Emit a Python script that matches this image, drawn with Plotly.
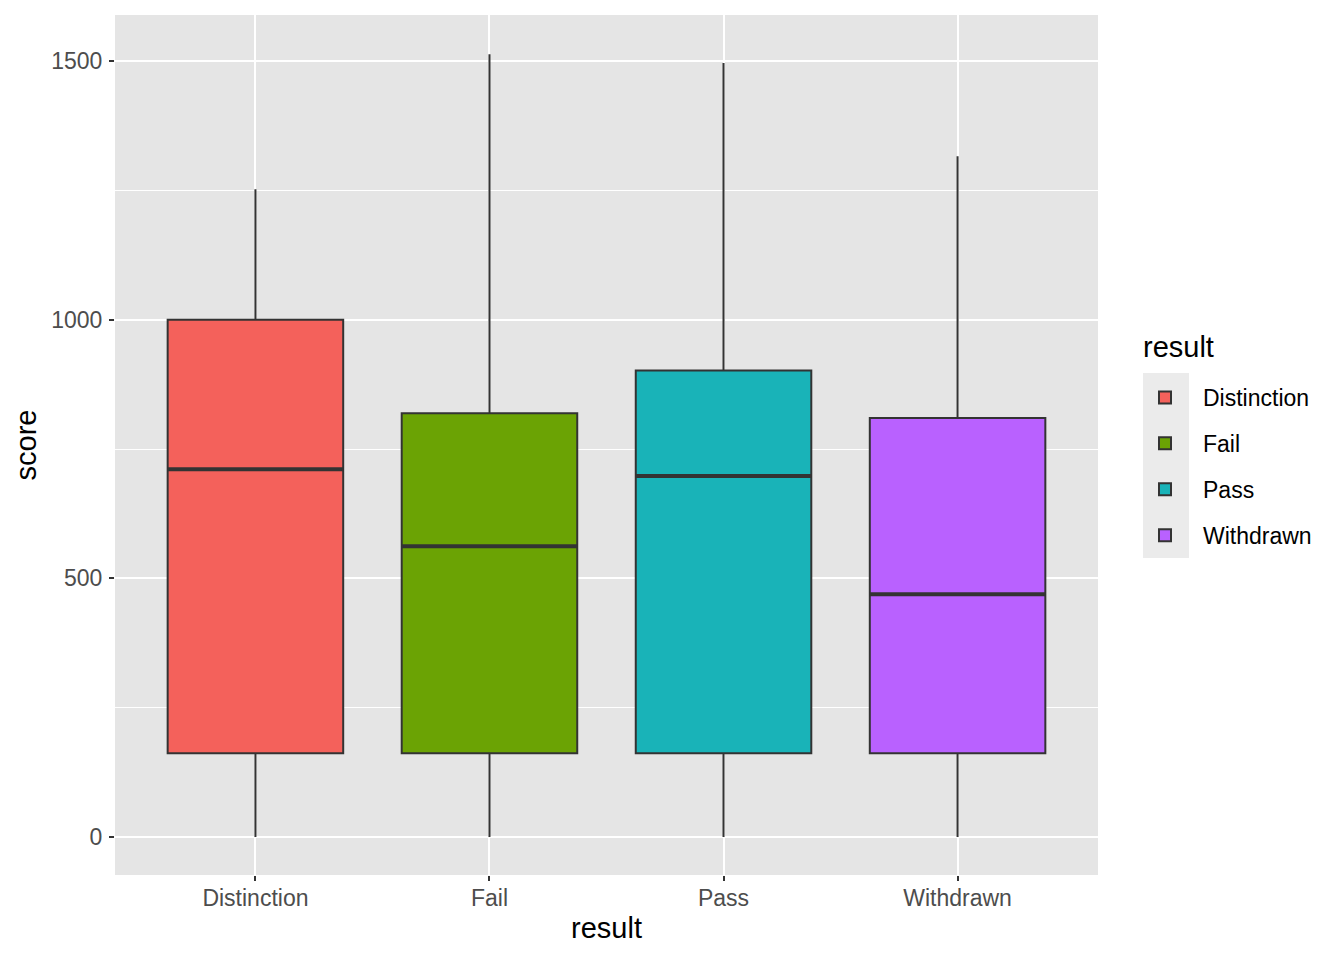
import plotly.graph_objects as go

categories = ["Distinction", "Fail", "Pass", "Withdrawn"]
lower = [0, 0, 0, 0]
q1 = [162, 162, 162, 162]
median = [711, 562, 698, 469]
q3 = [1000, 819, 902, 810]
upper = [1252, 1513, 1496, 1316]
fills = ["#F4615B", "#6BA304", "#19B3B8", "#B961FF"]

BOX_W = 0.75
positions = list(range(len(categories)))

fig = go.Figure()
for i, c in enumerate(categories):
    fig.add_trace(go.Box(
        x=[positions[i]], q1=[q1[i]], median=[median[i]], q3=[q3[i]],
        lowerfence=[lower[i]], upperfence=[upper[i]],
        name=c, legendgroup=c,
        fillcolor=fills[i],
        line=dict(color="#333333", width=2),
        width=BOX_W, whiskerwidth=0,
        boxpoints=False, hoverinfo="skip",
    ))
for i, c in enumerate(categories):
    fig.add_trace(go.Scatter(
        x=[positions[i] - BOX_W / 2, positions[i] + BOX_W / 2],
        y=[median[i], median[i]], mode="lines",
        line=dict(color="#333333", width=4),
        showlegend=False, hoverinfo="skip", legendgroup=c,
    ))

fig.add_shape(type="rect", xref="paper", yref="paper",
              x0=(1143 - 115) / 983, x1=(1189 - 115) / 983,
              y0=(875 - 558) / 860, y1=(875 - 373) / 860,
              fillcolor="#EBEBEB", line=dict(width=0), layer="below")
fig.add_annotation(text="result", xref="paper", yref="paper",
                   x=(1141 - 115) / 983, y=(875 - 347) / 860,
                   xanchor="left", yanchor="middle", showarrow=False,
                   font=dict(size=29, color="#000000"))

fig.update_layout(
    width=1328, height=944,
    paper_bgcolor="white", plot_bgcolor="#E5E5E5",
    margin=dict(l=107, r=238, t=7, b=77),
    font=dict(family="Liberation Sans, Arial, sans-serif", color="#000000"),
    showlegend=True,
    legend=dict(
        font=dict(size=23), x=(1127 - 115) / 983, xanchor="left",
        y=(875 - 376) / 860, yanchor="top",
        tracegroupgap=13, bgcolor="rgba(0,0,0,0)", itemwidth=66,
    ),
    xaxis=dict(
        range=[-0.6, 3.6], tickvals=positions, ticktext=categories,
        showgrid=True, gridcolor="white", gridwidth=2,
        ticks="outside", ticklen=5, tickcolor="#333333", tickwidth=1.5,
        tickfont=dict(size=23, color="#4D4D4D"), ticklabelstandoff=-3,
        title=dict(text="result", font=dict(size=29), standoff=8),
        zeroline=False, showline=False,
    ),
    yaxis=dict(
        range=[-73.5, 1589], tickvals=[0, 500, 1000, 1500],
        showgrid=True, gridcolor="white", gridwidth=2,
        minor=dict(tickvals=[250, 750, 1250], showgrid=True, gridcolor="white", gridwidth=1, ticks=""),
        ticks="outside", ticklen=5, tickcolor="#333333", tickwidth=1.5,
        tickfont=dict(size=23, color="#4D4D4D"), ticklabelstandoff=2,
        title=dict(text="score", font=dict(size=29), standoff=6),
        zeroline=False, showline=False,
    ),
)

fig.write_html("out.html")
